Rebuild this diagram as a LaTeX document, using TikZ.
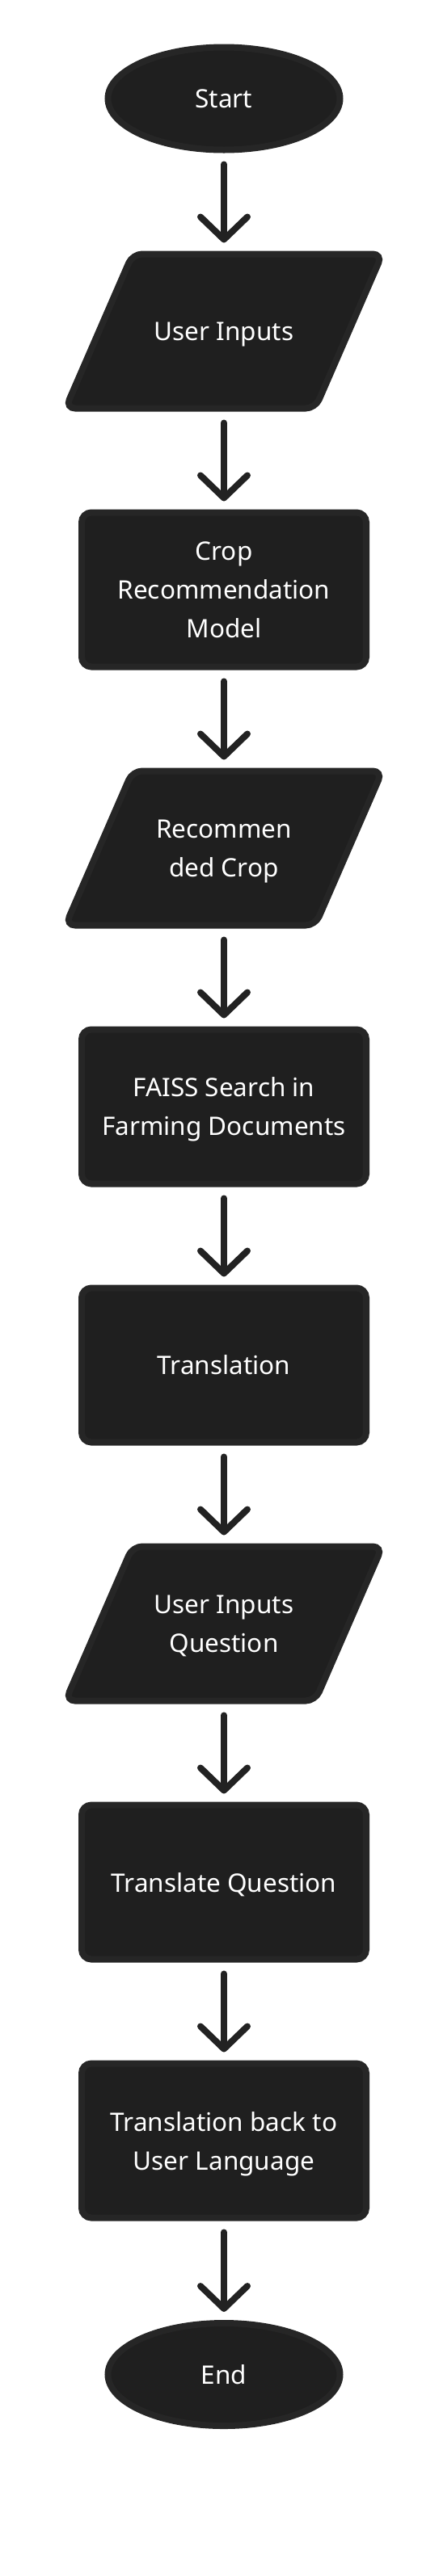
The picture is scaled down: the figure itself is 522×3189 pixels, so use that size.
\documentclass[tikz,border=0pt]{standalone}
\usepackage{fontspec}
\setmainfont{Noto Sans}
\usetikzlibrary{arrows.meta,shapes.geometric,backgrounds}
\definecolor{boxfill}{HTML}{1F1F1F}
\definecolor{boxline}{HTML}{262626}
\definecolor{arrowcol}{HTML}{222222}
\begin{document}
\begin{tikzpicture}[x=1pt,y=-1pt,
  lbl/.style={text=white,font=\fontsize{31.5}{48}\selectfont,align=center,inner sep=0pt,outer sep=0pt,text depth=0pt},
  base/.style={lbl,fill=boxfill,draw=boxline,line width=8pt},
  term/.style={base,ellipse,minimum width=287pt,minimum height=127pt},
  proc/.style={base,rectangle,rounded corners=12pt,minimum width=352pt,minimum height=191pt},
  iotext/.style={lbl,minimum width=352pt,minimum height=191pt},
  iobox/.style={fill=boxfill,draw=boxline,line width=8pt,rounded corners=12pt},
  conn/.style={draw=arrowcol,line width=8pt,line cap=round,line join=round,-{Straight Barb[length=28pt,width=58pt,round]}}]
\useasboundingbox (0,0) rectangle (522,3189);

\node[term] (start) at (277,122) {Start};
\node[iotext] (ui) at (277,410) {User Inputs};
\node[proc] (crm) at (277,730) {Crop\\Recommendation\\Model};
\node[iotext] (rc) at (277,1050) {Recommen\\ded Crop};
\node[proc] (faiss) at (277,1370) {FAISS Search in\\Farming Documents};
\node[proc] (tr) at (277,1690) {Translation};
\node[iotext] (uiq) at (277,2010) {User Inputs\\Question};
\node[proc] (tq) at (277,2330) {Translate Question};
\node[proc] (tb) at (277,2650) {Translation back to\\User Language};
\node[term] (end) at (277,2939.5) {End};

\begin{scope}[on background layer]
\foreach \n in {ui,rc,uiq}{
  \draw[iobox, shift={(\n.center)}] (-113,-95.5) -- (196,-95.5) -- (113,95.5) -- (-196,95.5) -- cycle;
}
\end{scope}

\draw[conn] ([yshift=-18pt]start.south) -- ([yshift=14pt]ui.north);
\draw[conn] ([yshift=-18pt]ui.south) -- ([yshift=14pt]crm.north);
\draw[conn] ([yshift=-18pt]crm.south) -- ([yshift=14pt]rc.north);
\draw[conn] ([yshift=-18pt]rc.south) -- ([yshift=14pt]faiss.north);
\draw[conn] ([yshift=-18pt]faiss.south) -- ([yshift=14pt]tr.north);
\draw[conn] ([yshift=-18pt]tr.south) -- ([yshift=14pt]uiq.north);
\draw[conn] ([yshift=-18pt]uiq.south) -- ([yshift=14pt]tq.north);
\draw[conn] ([yshift=-18pt]tq.south) -- ([yshift=14pt]tb.north);
\draw[conn] ([yshift=-18pt]tb.south) -- ([yshift=14pt]end.north);
\end{tikzpicture}
\end{document}
